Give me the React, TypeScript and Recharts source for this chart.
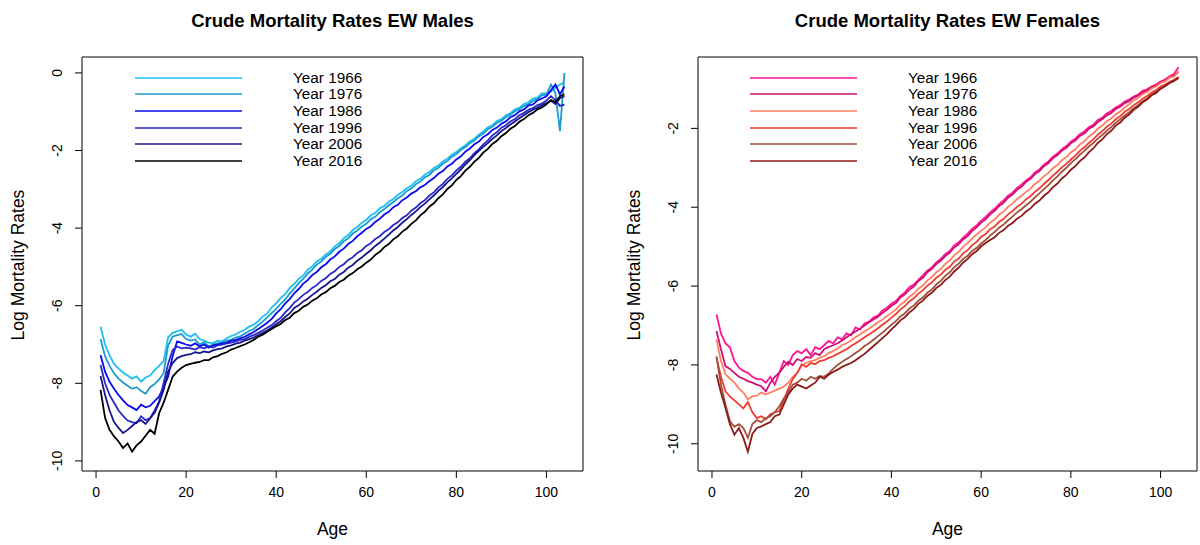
import React from 'react';
import { LineChart, Line, XAxis, YAxis, ReferenceArea, Legend } from 'recharts';

const ages = Array.from({ length: 104 }, (_, i) => i + 1);
const years = ['1966', '1976', '1986', '1996', '2006', '2016'];
const ageTicks = [0, 20, 40, 60, 80, 100];
const maleTicks = [-10, -8, -6, -4, -2, 0];
const femaleTicks = [-10, -8, -6, -4, -2];

// log crude death rates, ages 1..104
const male1966 = [
  -6.54, -7.0, -7.28, -7.5, -7.62, -7.72, -7.8, -7.88, -7.82, -7.96,
  -7.85, -7.8, -7.66, -7.55, -7.42, -6.82, -6.7, -6.66, -6.62, -6.74,
  -6.8, -6.72, -6.86, -6.9, -6.95, -6.96, -6.9, -6.92, -6.84, -6.78,
  -6.74, -6.67, -6.62, -6.54, -6.49, -6.4, -6.28, -6.2, -6.04, -5.94,
  -5.8, -5.7, -5.54, -5.44, -5.31, -5.22, -5.07, -4.99, -4.86, -4.79,
  -4.68, -4.6, -4.47, -4.39, -4.26, -4.18, -4.05, -3.97, -3.86, -3.79,
  -3.67, -3.61, -3.49, -3.43, -3.32, -3.25, -3.14, -3.07, -2.97, -2.91,
  -2.79, -2.73, -2.62, -2.56, -2.45, -2.39, -2.28, -2.21, -2.11, -2.04,
  -1.94, -1.87, -1.76, -1.7, -1.59, -1.51, -1.4, -1.35, -1.24, -1.19,
  -1.09, -1.04, -0.94, -0.9, -0.8, -0.76, -0.66, -0.64, -0.53, -0.52,
  -0.48, -0.38, -0.3, -0.25,
];
const male1976 = [
  -6.86, -7.3, -7.55, -7.74, -7.88, -7.98, -8.06, -8.14, -8.1, -8.2,
  -8.27, -8.1, -8.02, -7.9, -7.74, -7.02, -6.8, -6.76, -6.73, -6.86,
  -6.9, -6.87, -7.0, -6.94, -7.05, -7.0, -6.97, -6.95, -6.9, -6.88,
  -6.82, -6.79, -6.72, -6.65, -6.6, -6.5, -6.41, -6.3, -6.19, -6.08,
  -5.95, -5.84, -5.69, -5.56, -5.42, -5.31, -5.17, -5.07, -4.94, -4.86,
  -4.74, -4.66, -4.54, -4.46, -4.34, -4.26, -4.14, -4.06, -3.96, -3.89,
  -3.77, -3.71, -3.59, -3.51, -3.41, -3.33, -3.23, -3.16, -3.04, -2.98,
  -2.87, -2.8, -2.69, -2.63, -2.51, -2.45, -2.34, -2.27, -2.16, -2.09,
  -1.99, -1.91, -1.81, -1.74, -1.63, -1.56, -1.45, -1.39, -1.29, -1.23,
  -1.14, -1.08, -0.99, -0.93, -0.85, -0.81, -0.72, -0.68, -0.58, -0.56,
  -0.3, -0.52, -1.5, 0.0,
];
const male1986 = [
  -7.27, -7.7, -7.96, -8.14, -8.3, -8.44, -8.56, -8.62, -8.69, -8.55,
  -8.62, -8.58, -8.46, -8.34, -8.1, -7.83, -7.3, -6.92, -6.96, -7.0,
  -7.03, -6.97, -7.05, -7.0, -7.08, -7.02, -7.0, -6.97, -6.95, -6.9,
  -6.88, -6.84, -6.8, -6.74, -6.68, -6.6, -6.52, -6.44, -6.34, -6.2,
  -6.09, -5.94, -5.83, -5.68, -5.57, -5.43, -5.34, -5.21, -5.13, -5.01,
  -4.93, -4.81, -4.73, -4.61, -4.53, -4.41, -4.33, -4.21, -4.12, -4.02,
  -3.95, -3.84, -3.76, -3.65, -3.58, -3.46, -3.4, -3.28, -3.21, -3.11,
  -3.05, -2.95, -2.89, -2.79, -2.71, -2.6, -2.53, -2.41, -2.34, -2.23,
  -2.15, -2.03, -1.95, -1.84, -1.77, -1.65, -1.58, -1.47, -1.41, -1.31,
  -1.25, -1.14, -1.09, -0.99, -0.94, -0.84, -0.81, -0.71, -0.66, -0.6,
  -0.45, -0.3, -0.55, -0.35,
];
const male1996 = [
  -7.53, -8.0, -8.3, -8.5, -8.7, -8.84, -8.96, -9.0, -9.03, -8.85,
  -8.95, -8.9, -8.7, -8.47, -8.0, -7.5, -7.14, -7.05, -7.1, -7.08,
  -7.1, -7.13, -7.07, -7.1, -7.05, -7.08, -7.02, -7.0, -6.97, -6.95,
  -6.92, -6.88, -6.86, -6.8, -6.76, -6.7, -6.64, -6.57, -6.5, -6.4,
  -6.31, -6.17, -6.06, -5.92, -5.83, -5.72, -5.65, -5.54, -5.47, -5.36,
  -5.29, -5.18, -5.11, -5.0, -4.93, -4.82, -4.75, -4.64, -4.57, -4.46,
  -4.39, -4.28, -4.21, -4.1, -4.03, -3.92, -3.85, -3.74, -3.67, -3.55,
  -3.47, -3.36, -3.28, -3.16, -3.08, -2.95, -2.86, -2.73, -2.64, -2.51,
  -2.42, -2.29, -2.2, -2.07, -1.97, -1.84, -1.74, -1.61, -1.53, -1.41,
  -1.35, -1.25, -1.19, -1.09, -1.03, -0.95, -0.91, -0.83, -0.79, -0.71,
  -0.6, -0.7, -0.85, -0.82,
];
const male2006 = [
  -7.81, -8.3, -8.7, -9.0, -9.15, -9.28, -9.2, -9.1, -9.0, -8.95,
  -9.05, -8.9, -8.76, -8.5, -8.17, -7.7, -7.48, -7.35, -7.3, -7.27,
  -7.25, -7.2, -7.22, -7.18, -7.2, -7.15, -7.12, -7.1, -7.05, -7.02,
  -6.98, -6.95, -6.9, -6.86, -6.82, -6.76, -6.7, -6.64, -6.56, -6.48,
  -6.4, -6.29, -6.2, -6.06, -5.99, -5.89, -5.82, -5.72, -5.64, -5.54,
  -5.47, -5.37, -5.31, -5.2, -5.13, -5.02, -4.95, -4.84, -4.76, -4.66,
  -4.57, -4.46, -4.37, -4.27, -4.17, -4.06, -3.97, -3.86, -3.77, -3.66,
  -3.57, -3.46, -3.37, -3.26, -3.16, -3.04, -2.94, -2.82, -2.72, -2.6,
  -2.49, -2.36, -2.25, -2.12, -2.01, -1.9, -1.81, -1.7, -1.61, -1.5,
  -1.42, -1.33, -1.25, -1.17, -1.09, -1.01, -0.95, -0.89, -0.83, -0.78,
  -0.72, -0.8, -0.65, -0.6,
];
const male2016 = [
  -8.17, -8.89, -9.2, -9.37, -9.5, -9.67, -9.55, -9.76, -9.6, -9.5,
  -9.35, -9.2, -9.3, -8.77, -8.5, -8.17, -7.83, -7.7, -7.6, -7.53,
  -7.5, -7.47, -7.45, -7.4, -7.4, -7.33, -7.3, -7.24, -7.2, -7.13,
  -7.09, -7.04, -7.0, -6.94, -6.88, -6.8, -6.75, -6.67, -6.6, -6.53,
  -6.47, -6.37, -6.31, -6.19, -6.13, -6.03, -5.97, -5.87, -5.81, -5.71,
  -5.65, -5.55, -5.49, -5.39, -5.33, -5.23, -5.16, -5.06, -4.99, -4.89,
  -4.81, -4.69, -4.61, -4.49, -4.41, -4.29, -4.21, -4.09, -4.01, -3.89,
  -3.8, -3.67, -3.58, -3.45, -3.36, -3.23, -3.13, -2.99, -2.9, -2.76,
  -2.66, -2.52, -2.42, -2.29, -2.19, -2.05, -1.96, -1.83, -1.75, -1.63,
  -1.55, -1.44, -1.37, -1.26, -1.19, -1.09, -1.03, -0.94, -0.89, -0.81,
  -0.7, -0.75, -0.6, -0.55,
];

const female1966 = [
  -6.72, -7.2, -7.45, -7.56, -7.9, -8.07, -8.15, -8.2, -8.3, -8.36,
  -8.36, -8.45, -8.3, -8.5, -8.2, -7.9, -8.0, -7.75, -7.65, -7.7,
  -7.6, -7.75, -7.55, -7.6, -7.5, -7.39, -7.45, -7.3, -7.35, -7.2,
  -7.25, -7.05, -7.1, -6.95, -6.9, -6.8, -6.75, -6.62, -6.55, -6.45,
  -6.38, -6.25, -6.16, -6.03, -5.96, -5.84, -5.73, -5.61, -5.53, -5.4,
  -5.31, -5.19, -5.11, -4.97, -4.89, -4.77, -4.67, -4.55, -4.46, -4.34,
  -4.25, -4.13, -4.04, -3.92, -3.83, -3.71, -3.63, -3.51, -3.43, -3.32,
  -3.24, -3.12, -3.04, -2.92, -2.84, -2.72, -2.64, -2.53, -2.45, -2.34,
  -2.26, -2.15, -2.08, -1.97, -1.91, -1.79, -1.73, -1.62, -1.56, -1.47,
  -1.41, -1.32, -1.27, -1.19, -1.14, -1.05, -1.01, -0.94, -0.89, -0.81,
  -0.76, -0.68, -0.62, -0.45,
];
const female1976 = [
  -7.14, -7.6, -8.03, -8.1, -8.2, -8.3, -8.35, -8.41, -8.45, -8.5,
  -8.54, -8.67, -8.45, -8.3, -8.2, -8.05, -7.92, -8.0, -7.85, -7.9,
  -7.8, -7.82, -7.7, -7.75, -7.6, -7.55, -7.5, -7.45, -7.38, -7.3,
  -7.22, -7.15, -7.08, -7.0, -6.92, -6.85, -6.78, -6.68, -6.6, -6.5,
  -6.43, -6.29, -6.21, -6.09, -6.01, -5.87, -5.79, -5.65, -5.57, -5.44,
  -5.36, -5.24, -5.15, -5.02, -4.94, -4.81, -4.73, -4.6, -4.51, -4.39,
  -4.31, -4.18, -4.09, -3.97, -3.89, -3.76, -3.68, -3.56, -3.48, -3.36,
  -3.28, -3.16, -3.08, -2.96, -2.88, -2.76, -2.68, -2.57, -2.49, -2.38,
  -2.31, -2.19, -2.13, -2.01, -1.95, -1.84, -1.77, -1.67, -1.61, -1.51,
  -1.45, -1.36, -1.31, -1.22, -1.17, -1.09, -1.04, -0.96, -0.91, -0.84,
  -0.79, -0.71, -0.66, -0.58,
];
const female1986 = [
  -7.35, -7.9, -8.23, -8.35, -8.45, -8.6, -8.7, -8.87, -8.8, -8.78,
  -8.7, -8.75, -8.7, -8.65, -8.6, -8.55, -8.45, -8.3, -8.2, -8.0,
  -7.95, -7.9, -7.88, -7.82, -7.78, -7.7, -7.65, -7.58, -7.5, -7.45,
  -7.38, -7.3, -7.22, -7.15, -7.08, -7.0, -6.92, -6.85, -6.76, -6.68,
  -6.59, -6.47, -6.39, -6.27, -6.19, -6.07, -5.98, -5.86, -5.77, -5.65,
  -5.57, -5.44, -5.35, -5.22, -5.13, -5.0, -4.91, -4.79, -4.69, -4.6,
  -4.51, -4.39, -4.31, -4.19, -4.11, -3.99, -3.91, -3.79, -3.71, -3.61,
  -3.53, -3.41, -3.33, -3.21, -3.13, -3.01, -2.93, -2.81, -2.73, -2.61,
  -2.53, -2.41, -2.33, -2.21, -2.13, -2.01, -1.93, -1.82, -1.75, -1.64,
  -1.57, -1.47, -1.39, -1.29, -1.23, -1.13, -1.08, -0.99, -0.94, -0.85,
  -0.81, -0.71, -0.69, -0.55,
];
const female1996 = [
  -7.82, -8.3, -8.67, -8.8, -8.9, -9.0, -9.1, -8.94, -9.2, -9.35,
  -9.3, -9.38, -9.25, -9.2, -9.17, -8.9, -8.6, -8.36, -8.2, -7.99,
  -8.05, -7.95, -7.98, -7.9, -7.88, -7.82, -7.78, -7.72, -7.66, -7.6,
  -7.52, -7.45, -7.38, -7.3, -7.23, -7.15, -7.07, -6.98, -6.9, -6.8,
  -6.71, -6.59, -6.51, -6.39, -6.31, -6.19, -6.11, -5.99, -5.91, -5.79,
  -5.71, -5.59, -5.51, -5.38, -5.3, -5.17, -5.09, -4.96, -4.88, -4.75,
  -4.68, -4.56, -4.49, -4.37, -4.3, -4.18, -4.1, -3.99, -3.91, -3.8,
  -3.72, -3.61, -3.52, -3.41, -3.31, -3.2, -3.1, -2.99, -2.9, -2.79,
  -2.69, -2.57, -2.48, -2.37, -2.28, -2.16, -2.07, -1.96, -1.88, -1.77,
  -1.69, -1.58, -1.51, -1.41, -1.34, -1.25, -1.18, -1.09, -1.03, -0.94,
  -0.89, -0.82, -0.77, -0.7,
];
const female2006 = [
  -7.78, -8.5, -9.0, -9.43, -9.57, -9.5, -9.6, -9.85, -9.5, -9.4,
  -9.45, -9.35, -9.3, -9.2, -9.05, -8.85, -8.7, -8.5, -8.45, -8.35,
  -8.4, -8.3, -8.35, -8.28, -8.3, -8.22, -8.1, -8.0, -7.92, -7.85,
  -7.78, -7.7, -7.62, -7.52, -7.45, -7.36, -7.27, -7.18, -7.08, -6.98,
  -6.89, -6.77, -6.69, -6.57, -6.49, -6.37, -6.29, -6.17, -6.09, -5.96,
  -5.87, -5.74, -5.65, -5.52, -5.43, -5.31, -5.23, -5.11, -5.03, -4.92,
  -4.83, -4.72, -4.63, -4.52, -4.44, -4.33, -4.24, -4.13, -4.05, -3.95,
  -3.86, -3.75, -3.65, -3.54, -3.44, -3.32, -3.22, -3.1, -3.0, -2.88,
  -2.78, -2.67, -2.57, -2.46, -2.37, -2.26, -2.17, -2.06, -1.97, -1.86,
  -1.77, -1.67, -1.59, -1.49, -1.41, -1.31, -1.24, -1.14, -1.07, -0.98,
  -0.92, -0.85, -0.8, -0.72,
];
const female2016 = [
  -8.24, -8.7, -9.09, -9.5, -9.77, -9.6, -9.85, -10.2, -9.75, -9.6,
  -9.56, -9.5, -9.45, -9.3, -9.26, -9.0, -8.75, -8.6, -8.5, -8.55,
  -8.6, -8.52, -8.45, -8.3, -8.35, -8.25, -8.18, -8.12, -8.05, -8.0,
  -7.95, -7.88, -7.8, -7.72, -7.62, -7.52, -7.42, -7.32, -7.22, -7.1,
  -6.99, -6.87, -6.79, -6.67, -6.58, -6.45, -6.37, -6.25, -6.17, -6.05,
  -5.97, -5.85, -5.76, -5.63, -5.53, -5.4, -5.31, -5.19, -5.11, -4.99,
  -4.91, -4.83, -4.76, -4.65, -4.58, -4.47, -4.4, -4.29, -4.22, -4.11,
  -4.03, -3.91, -3.83, -3.71, -3.62, -3.49, -3.4, -3.27, -3.18, -3.05,
  -2.96, -2.83, -2.74, -2.61, -2.51, -2.37, -2.28, -2.15, -2.06, -1.93,
  -1.85, -1.73, -1.65, -1.53, -1.45, -1.34, -1.27, -1.16, -1.1, -1.0,
  -0.93, -0.85, -0.79, -0.72,
];

const maleSeries = [male1966, male1976, male1986, male1996, male2006, male2016];
const femaleSeries = [female1966, female1976, female1986, female1996, female2006, female2016];

const maleColors = ['#1EC0F0', '#1A9CCC', '#0A0AF0', '#2828C8', '#16168A', '#000000'];
const femaleColors = ['#FF1493', '#CD1076', '#FF7F60', '#EE3B30', '#A0503C', '#8B1A1A'];

const FONT = '"Liberation Sans", Arial, sans-serif';
const X_DOMAIN: [number, number] = [-3.12, 108.12];

const YTick = ({ x, y, payload }: any) => (
  <text
    x={x - 11}
    y={y}
    transform={`rotate(-90, ${x - 11}, ${y})`}
    textAnchor="middle"
    fontSize={14}
    fontFamily={FONT}
    fill="#000"
  >
    {payload.value}
  </text>
);

const LegendBox = ({ payload }: any) => (
  <div style={{ fontFamily: FONT, fontSize: 15.3, color: '#000' }}>
    {(payload || []).map((p: any) => (
      <div key={p.value} style={{ height: 16.6, display: 'flex', alignItems: 'center' }}>
        <svg width={107} height={4} style={{ display: 'block' }}>
          <line x1={0} y1={2} x2={107} y2={2} stroke={p.color} strokeWidth={1.4} />
        </svg>
        <span style={{ marginLeft: 51, lineHeight: '16px' }}>{p.value}</span>
      </div>
    ))}
  </div>
);

interface PanelProps {
  title: string;
  series: number[][];
  colors: string[];
  yDomain: [number, number];
  yTicks: number[];
  left: number;
  plotLeft: number;
  plotRight: number;
  legendLeft: number;
}

const Panel = ({ title, series, colors, yDomain, yTicks, left, plotLeft, plotRight, legendLeft }: PanelProps) => {
  const data = ages.map((age, i) => {
    const row: any = { age };
    years.forEach((yr, k) => {
      row['y' + yr] = series[k][i];
    });
    return row;
  });
  const width = 600;
  const center = (plotLeft + plotRight) / 2;
  return (
    <div style={{ position: 'absolute', left, top: 0, width, height: 545 }}>
      <div style={{ position: 'absolute', top: 10, left: center - 200, width: 400, textAlign: 'center', fontFamily: FONT, fontWeight: 'bold', fontSize: 18.5 }}>
        {title}
      </div>
      <div style={{ position: 'absolute', top: 519, left: center - 100, width: 200, textAlign: 'center', fontFamily: FONT, fontSize: 17.5 }}>
        Age
      </div>
      <div style={{ position: 'absolute', top: 254, left: plotLeft - 64 - 100, width: 200, textAlign: 'center', fontFamily: FONT, fontSize: 17.5, transform: 'rotate(-90deg)', lineHeight: '22px' }}>
        Log Mortality Rates
      </div>
      <LineChart
        width={width}
        height={545}
        data={data}
        margin={{ top: 57, right: width - plotRight, bottom: 34, left: plotLeft - 40 }}
      >
        <XAxis
          dataKey="age"
          type="number"
          domain={X_DOMAIN}
          ticks={ageTicks}
          allowDataOverflow
          axisLine={false}
          tickLine={{ stroke: '#000' }}
          tickSize={7}
          tickMargin={9}
          height={40}
          tick={{ fill: '#000', fontSize: 14, fontFamily: FONT }}
        />
        <YAxis
          type="number"
          domain={yDomain}
          ticks={yTicks}
          allowDataOverflow
          axisLine={false}
          tickLine={{ stroke: '#000' }}
          tickSize={7}
          width={40}
          tick={<YTick />}
        />
        <ReferenceArea
          x1={X_DOMAIN[0]}
          x2={X_DOMAIN[1]}
          y1={yDomain[0]}
          y2={yDomain[1]}
          fill="none"
          fillOpacity={0}
          stroke="#000"
          strokeWidth={1}
          ifOverflow="visible"
        />
        {years.map((yr, k) => (
          <Line
            key={yr}
            type="linear"
            dataKey={'y' + yr}
            name={'Year ' + yr}
            stroke={colors[k]}
            strokeWidth={1.8}
            dot={false}
            isAnimationActive={false}
          />
        ))}
        <Legend
          layout="vertical"
          align="center"
          verticalAlign="middle"
          content={<LegendBox />}
          wrapperStyle={{ left: legendLeft - left, top: 69.5, width: 240 }}
        />
      </LineChart>
    </div>
  );
};

export default function App() {
  return (
    <div style={{ position: 'absolute', left: 0, top: 0, width: 1200, height: 545, background: '#fff', overflow: 'hidden' }}>
      <Panel
        title="Crude Mortality Rates EW Males"
        series={maleSeries}
        colors={maleColors}
        yDomain={[-10.26, 0.41]}
        yTicks={maleTicks}
        left={0}
        plotLeft={82}
        plotRight={583}
        legendLeft={135}
      />
      <Panel
        title="Crude Mortality Rates EW Females"
        series={femaleSeries}
        colors={femaleColors}
        yDomain={[-10.69, -0.19]}
        yTicks={femaleTicks}
        left={600}
        plotLeft={98}
        plotRight={597}
        legendLeft={750}
      />
    </div>
  );
}
